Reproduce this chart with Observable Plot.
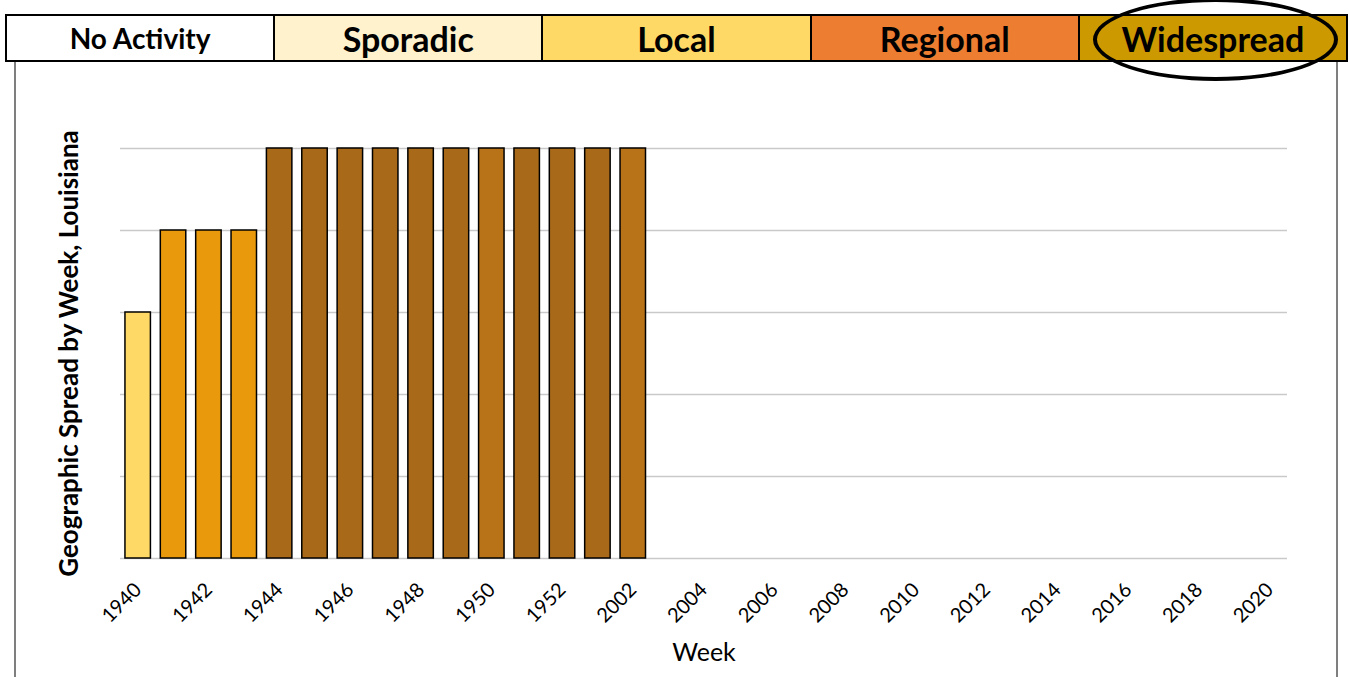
<!DOCTYPE html>
<html><head><meta charset="utf-8">
<script src="https://cdn.jsdelivr.net/npm/d3@7"></script>
<script src="https://cdn.jsdelivr.net/npm/@observablehq/plot@0.6"></script>
<style>
body{margin:0;background:#fff;font-family:Lato,"Open Sans",sans-serif;}
#page{position:relative;width:1350px;height:677px;overflow:hidden;background:#fff;}
#legend{position:absolute;left:5px;top:14px;width:1343px;height:48px;box-sizing:border-box;border:2px solid #000;display:flex;}
.cell{flex:1;display:flex;align-items:center;justify-content:center;font-weight:bold;font-size:34px;color:#000;border-right:2px solid #000;}
.cell:last-child{border-right:none;}
.cell.small{font-size:28px;}
#ellipse{position:absolute;left:1093px;top:-2px;width:245px;height:83px;box-sizing:border-box;border:4px solid #000;border-radius:50%;}
#frame{position:absolute;left:14px;top:62px;width:1324px;height:640px;box-sizing:border-box;border-left:2px solid #7f7f7f;border-right:2px solid #7f7f7f;pointer-events:none;}
#chart{position:absolute;left:15px;top:62px;}
</style>
</head><body>
<div id="page">
  <div id="chart"></div>
  <div id="frame"></div>
  <div id="legend"></div>
  <div id="ellipse"></div>
</div>
<script>
// Legend levels
const levels = ["No Activity", "Sporadic", "Local", "Regional", "Widespread"];
const levelColors = ["#FFFFFF", "#FFF2CC", "#FFD966", "#ED7D31", "#CC9900"];

// Weeks (categories on the x axis)
const weeks = ["1940","1941","1942","1943","1944","1945","1946","1947","1948","1949","1950","1951","1952",
  "2001","2002","2003","2004","2005","2006","2007","2008","2009","2010","2011","2012","2013","2014",
  "2015","2016","2017","2018","2019","2020"];
// Reported geographic spread level (0 = none ... 5 = widespread), weeks with data only
const spread = [3,4,4,4,5,5,5,5,5,5,5,5,5,5,5];
const barColors = ["#FFD966","#E8990C","#E8990C","#E8990C","#A86A18","#A86A18","#A86A18","#A86A18",
  "#A86A18","#A86A18","#B87318","#A86A18","#A86A18","#A86A18","#B87318"];
const tickLabels = weeks.filter((d, i) => i % 2 === 0);
const gridLevels = [0,1,2,3,4,5];

const legend = document.getElementById("legend");
levels.forEach((l, i) => {
  const c = document.createElement("div");
  c.className = "cell" + (i === 0 ? " small" : "");
  c.style.background = levelColors[i];
  c.textContent = l;
  legend.appendChild(c);
});

const data = spread.map((v, i) => ({week: weeks[i], value: v, color: barColors[i]}));

const chart = Plot.plot({
  width: 1322,
  height: 615,
  marginLeft: 105,
  marginRight: 50,
  marginTop: 86,
  marginBottom: 119,
  style: {fontFamily: "Lato, sans-serif", color: "#000", background: "transparent"},
  x: {domain: weeks, paddingInner: 0.28, paddingOuter: 0.14, round: false, axis: null},
  y: {domain: [0, 5], axis: null},
  color: {type: "identity"},
  marks: [
    Plot.gridY(gridLevels, {stroke: "#c9c9c9", strokeOpacity: 1, strokeWidth: 1.5}),
    Plot.barY(data, {x: "week", y: "value", fill: d => d.color, stroke: "#000", strokeWidth: 1.5}),
    Plot.axisX({ticks: tickLabels, tickSize: 0, tickRotate: -45, tickPadding: 28, fontSize: 20, label: null}),
    Plot.text(["Geographic Spread by Week, Louisiana"], {frameAnchor: "left", textAnchor: "middle", dx: -51, rotate: -90, fontSize: 26, fontWeight: "bold", fill: "#000"}),
    Plot.text(["Week"], {frameAnchor: "bottom", dy: 102, fontSize: 25, fill: "#000"})
  ]
});
document.getElementById("chart").appendChild(chart);
</script>
</body></html>
